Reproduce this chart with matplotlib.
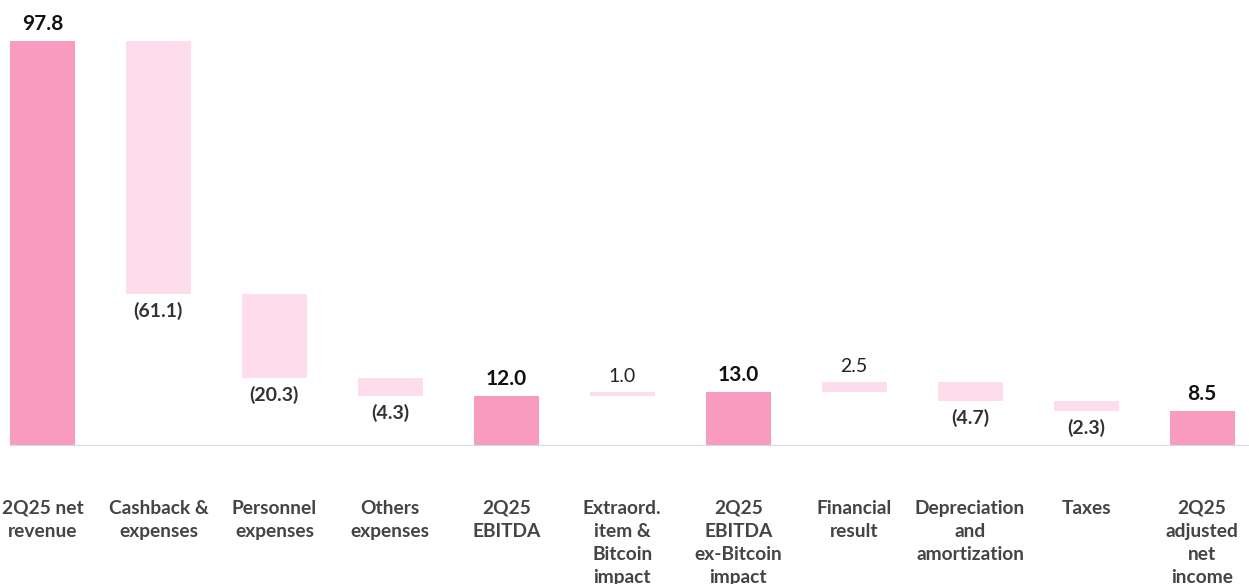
import numpy as np
import matplotlib.pyplot as plt

plt.rcParams['font.family'] = ['Lato', 'DejaVu Sans']

categories = ['2Q25 net\nrevenue', 'Cashback &\nexpenses', 'Personnel\nexpenses',
              'Others\nexpenses', '2Q25\nEBITDA', 'Extraord.\nitem &\nBitcoin\nimpact',
              '2Q25\nEBITDA\nex-Bitcoin\nimpact', 'Financial\nresult',
              'Depreciation\nand\namortization', 'Taxes', '2Q25\nadjusted\nnet\nincome']
values = [97.8, -61.1, -20.3, -4.3, 12.0, 1.0, 13.0, 2.5, -4.7, -2.3, 8.5]
is_total = [True, False, False, False, True, False, True, False, False, False, True]

total_color = '#F99BBE'
step_color = '#FDDCEB'

fig = plt.figure(figsize=(12.49, 5.84), dpi=100)
ax = fig.add_axes([10 / 1249, 138 / 584, 1239 / 1249, 446 / 584])

x = np.arange(len(values))
bottoms, heights, colors = [], [], []
running = 0.0
for v, tot in zip(values, is_total):
    if tot:
        bottoms.append(0)
        heights.append(v)
        colors.append(total_color)
        running = v
    else:
        bottoms.append(min(running, running + v))
        heights.append(abs(v))
        colors.append(step_color)
        running += v

ax.bar(x, heights, bottom=bottoms, width=0.56, color=colors, zorder=2)

for i, (v, tot) in enumerate(zip(values, is_total)):
    top = bottoms[i] + heights[i]
    if tot:
        ax.annotate(f'{v:.1f}', xy=(i, top), xytext=(0, 7), textcoords='offset pixels',
                    ha='center', va='bottom', fontsize=15, fontweight='bold', color='#111111')
    elif v > 0:
        ax.annotate(f'{v:.1f}', xy=(i, top), xytext=(0, 7), textcoords='offset pixels',
                    ha='center', va='bottom', fontsize=14, color='#222222')
    else:
        ax.annotate(f'({abs(v):.1f})', xy=(i, bottoms[i]), xytext=(0, -8), textcoords='offset pixels',
                    ha='center', va='top', fontsize=14, fontweight='bold', color='#333333')
    ax.annotate(categories[i], xy=(i, 0), xytext=(0, -54), textcoords='offset pixels',
                ha='center', va='top', fontsize=13.8, fontweight='bold', color='#444444',
                linespacing=1.42, annotation_clip=False)

ax.axhline(0, color='#D5DBDB', lw=1.6, zorder=3)
ax.set_xlim(-0.28, 10.405)
ax.set_ylim(0, 107.7)
ax.axis('off')

fig.savefig('out.png', dpi=100)
